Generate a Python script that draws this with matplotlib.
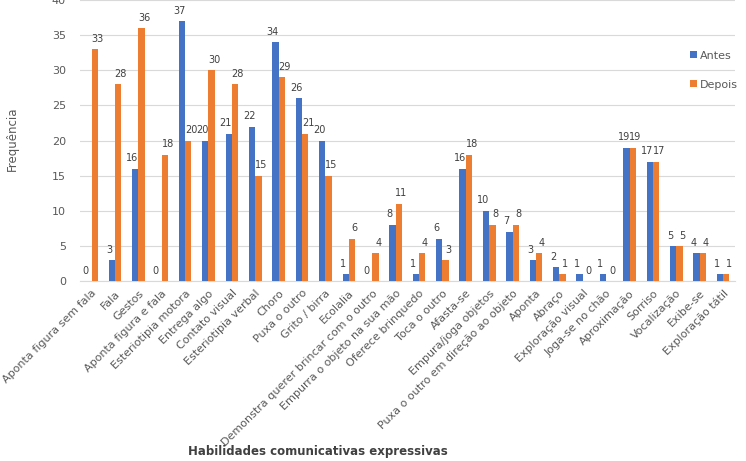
import numpy as np
import matplotlib
matplotlib.use("Agg")
from matplotlib import pyplot as plt

categorias = ["Aponta figura sem fala", "Fala", "Gestos", "Aponta figura e fala",
              "Esteriotipia motora", "Entrega algo", "Contato visual", "Esteriotipia verbal",
              "Choro", "Puxa o outro", "Grito / birra", "Ecolalia",
              "Demonstra querer brincar com o outro", "Empurra o objeto na sua mão",
              "Oferece brinquedo", "Toca o outro", "Afasta-se", "Empura/joga objetos",
              "Puxa o outro em direção ao objeto", "Aponta", "Abraço", "Exploração visual",
              "Joga-se no chão", "Aproximação", "Sorriso", "Vocalização", "Exibe-se",
              "Exploração tátil"]
antes = [0, 3, 16, 0, 37, 20, 21, 22, 34, 26, 20, 1, 0, 8, 1, 6, 16, 10, 7, 3, 2, 1, 1, 19, 17, 5, 4, 1]
depois = [33, 28, 36, 18, 20, 30, 28, 15, 29, 21, 15, 6, 4, 11, 4, 3, 18, 8, 8, 4, 1, 0, 0, 19, 17, 5, 4, 1]

azul = "#4472C4"
laranja = "#ED7D31"
cinza = "#595959"

fig = plt.figure(figsize=(7.46, 4.61), dpi=100)
ax = fig.add_axes([0.107, 0.39, 0.878, 0.61])

x = np.arange(len(categorias))
w = 0.27
b1 = ax.bar(x - w / 2, antes, w, color=azul, label="Antes", zorder=3)
b2 = ax.bar(x + w / 2, depois, w, color=laranja, label="Depois", zorder=3)

# rotulos de dados, um pouco afastados para nao se sobreporem
for bars, dx in ((b1, -2), (b2, 2)):
    for r in bars:
        h = r.get_height()
        ax.annotate(str(int(h)), (r.get_x() + r.get_width() / 2, h),
                    xytext=(dx, 4), textcoords="offset points",
                    ha="center", va="bottom", fontsize=7, color="#404040")

ax.set_xlim(-0.5, len(categorias) - 0.5)
ax.set_ylim(0, 40)
ax.set_yticks(np.arange(0, 41, 5))
ax.yaxis.grid(True, color="#D9D9D9", linewidth=0.8, zorder=0)
for s in ["top", "right", "left"]:
    ax.spines[s].set_visible(False)
ax.spines["bottom"].set_color("#D9D9D9")
ax.tick_params(axis="both", length=0, colors=cinza, labelsize=8)
ax.set_xticks(x)
ax.set_xticklabels(categorias, rotation=45, ha="right", rotation_mode="anchor")
ax.tick_params(axis="x", pad=5)
ax.tick_params(axis="y", pad=10)

fig.text(0.016, 0.70, "Frequência", rotation=90, ha="center", va="center",
         fontsize=8.5, color=cinza)
fig.text(0.426, 0.02, "Habilidades comunicativas expressivas", ha="center",
         va="center", fontsize=8.5, fontweight="bold", color="#404040")

fig.legend(loc="upper left", bbox_to_anchor=(0.925, 0.89), frameon=False,
           fontsize=8, handlelength=0.6, handleheight=0.6, handletextpad=0.3,
           labelspacing=1.7, labelcolor=cinza, borderaxespad=0, borderpad=0)

plt.savefig("out.png", dpi=100)
